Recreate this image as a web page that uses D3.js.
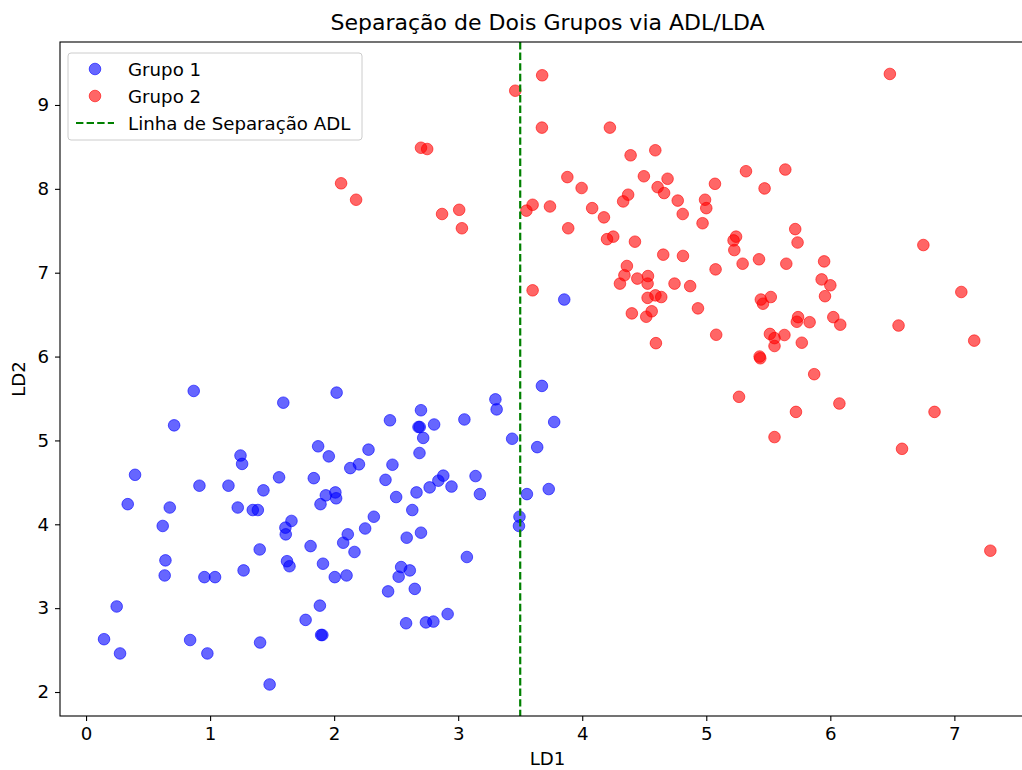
<!DOCTYPE html>
<html>
<head>
<meta charset="utf-8">
<script src="https://cdn.jsdelivr.net/npm/d3@7"></script>
<style>
  html, body { margin: 0; padding: 0; background: #fff; }
  svg { display: block; font-family: "DejaVu Sans", sans-serif; }
</style>
</head>
<body>
<svg id="chart" width="1022" height="770"></svg>
<script>
// Group 1 (LD1, LD2)
const grupo1X = [0.868, 1.59, 0.71, 1.245, 1.258, 0.395, 1.556, 0.914, 1.148, 1.43,
  0.336, 0.675, 1.223, 1.344, 1.385, 1.656, 1.607, 1.61, 0.618, 0.64,
  0.634, 0.954, 1.04, 1.27, 1.40, 1.62, 1.64, 0.247, 0.145, 0.274,
  0.839, 0.978, 1.403, 1.48, 2.02, 3.30, 3.31, 3.675, 2.70, 2.45,
  2.68, 2.69, 2.806, 3.05, 3.774, 2.718, 3.435, 3.637, 1.871, 1.957,
  2.277, 2.688, 2.13, 2.20, 2.47, 1.836, 2.414, 2.88, 2.84, 3.14,
  2.77, 2.946, 3.175, 2.664, 2.50, 3.554, 3.73, 1.933, 2.01, 2.016,
  1.89, 2.63, 2.32, 2.25, 2.11, 2.585, 2.70, 3.494, 3.49, 2.073,
  1.81, 2.164, 3.07, 1.91, 2.005, 2.10, 2.54, 2.61, 2.52, 2.65,
  2.435, 1.885, 1.77, 1.895, 1.905, 2.58, 2.74, 2.80, 2.915, 3.855];
const grupo1Y = [5.59, 5.45, 5.18, 4.82, 4.72, 4.59, 4.56, 4.46, 4.46, 4.405,
  4.24, 4.20, 4.20, 4.17, 4.17, 4.04, 3.96, 3.88, 3.98, 3.57,
  3.39, 3.37, 3.37, 3.45, 3.70, 3.56, 3.50, 3.02, 2.63, 2.46,
  2.62, 2.46, 2.59, 2.09, 5.57, 5.49, 5.37, 5.65, 5.36, 5.24,
  5.16, 5.16, 5.19, 5.25, 5.22, 5.03, 5.02, 4.92, 4.93, 4.81,
  4.89, 4.85, 4.67, 4.715, 4.71, 4.55, 4.53, 4.58, 4.52, 4.575,
  4.44, 4.45, 4.36, 4.38, 4.325, 4.36, 4.42, 4.345, 4.38, 4.31,
  4.24, 4.17, 4.09, 3.95, 3.88, 3.84, 3.90, 4.09, 3.98, 3.78,
  3.74, 3.67, 3.61, 3.53, 3.37, 3.39, 3.49, 3.45, 3.375, 3.23,
  3.20, 3.03, 2.86, 2.68, 2.68, 2.82, 2.83, 2.84, 2.93, 6.68];

// Group 2 (LD1, LD2)
const grupo2X = [3.677, 3.46, 3.675, 2.70, 2.75, 2.056, 2.177, 2.87, 3.008, 3.03,
  3.60, 3.55, 3.74, 3.88, 3.887, 3.60, 4.223, 4.589, 4.39, 3.995,
  4.497, 4.688, 4.608, 4.66, 4.37, 4.33, 4.77, 4.81, 5.07, 5.32,
  5.637, 5.47, 4.99, 5.0, 4.97, 4.08, 4.175, 4.25, 4.20, 4.425,
  5.24, 5.22, 5.226, 4.653, 4.812, 5.425, 5.293, 5.645, 5.075, 4.36,
  4.34, 4.304, 4.444, 4.53, 4.527, 4.744, 4.87, 4.527, 4.59, 4.637,
  4.933, 4.40, 4.516, 4.56, 5.44, 5.457, 5.52, 4.594, 5.08, 5.513,
  5.55, 5.55, 5.63, 5.43, 5.435, 5.264, 5.55, 6.48, 5.717, 5.736,
  6.75, 5.95, 5.93, 6.0, 5.957, 7.056, 5.74, 5.73, 5.833, 6.024,
  6.08, 6.55, 7.16, 5.77, 5.87, 6.073, 5.723, 6.84, 6.578, 7.29];
const grupo2Y = [9.354, 9.17, 8.73, 8.49, 8.475, 8.066, 7.87, 7.70, 7.75, 7.53,
  7.81, 7.74, 7.79, 8.14, 7.53, 6.79, 8.73, 8.46, 8.40, 8.01,
  8.15, 8.12, 8.02, 7.95, 7.93, 7.85, 7.86, 7.70, 8.06, 8.21,
  8.23, 8.005, 7.87, 7.77, 7.59, 7.77, 7.66, 7.43, 7.40, 7.37,
  7.43, 7.385, 7.27, 7.215, 7.20, 7.16, 7.107, 7.107, 7.04, 7.08,
  6.97, 6.87, 6.93, 6.96, 6.87, 6.87, 6.84, 6.70, 6.73, 6.71,
  6.575, 6.515, 6.475, 6.54, 6.68, 6.63, 6.71, 6.16, 6.26, 6.27,
  6.22, 6.126, 6.257, 6.00, 5.98, 5.52, 5.04, 9.37, 7.52, 7.36,
  7.33, 7.135, 6.92, 6.85, 6.72, 6.77, 6.47, 6.415, 6.41, 6.47,
  6.38, 6.37, 6.19, 6.165, 5.79, 5.44, 5.34, 5.34, 4.90, 3.685];

// Decision boundary on LD1
const separacaoLD1 = 3.5;

const xTicks = [0, 1, 2, 3, 4, 5, 6, 7];
const yTicks = [2, 3, 4, 5, 6, 7, 8, 9];

const titulo = "Separação de Dois Grupos via ADL/LDA";
const legendas = ["Grupo 1", "Grupo 2", "Linha de Separação ADL"];

const svg = d3.select("#chart");
const plot = { left: 60, right: 1035, top: 42, bottom: 716 };

const x = d3.scaleLinear().domain([-0.21, 7.65]).range([plot.left, plot.right]);
const y = d3.scaleLinear().domain([1.714, 9.751]).range([plot.bottom, plot.top]);

const baseFont = 18.2;

// Points
function drawGroup(xs, ys, color) {
  svg.append("g")
    .selectAll("circle")
    .data(xs.map((v, i) => [v, ys[i]]))
    .join("circle")
    .attr("cx", d => x(d[0]))
    .attr("cy", d => y(d[1]))
    .attr("r", 5.8)
    .attr("fill", color)
    .attr("fill-opacity", 0.6)
    .attr("stroke", color)
    .attr("stroke-opacity", 0.6)
    .attr("stroke-width", 1);
}
drawGroup(grupo1X, grupo1Y, "#0000ff");
drawGroup(grupo2X, grupo2Y, "#ff0000");

// Separation line
svg.append("line")
  .attr("x1", x(separacaoLD1)).attr("x2", x(separacaoLD1))
  .attr("y1", plot.top).attr("y2", plot.bottom)
  .attr("stroke", "#008000")
  .attr("stroke-width", 2.2)
  .attr("stroke-dasharray", "7.4,3.2");

// Axes
const xAxis = d3.axisBottom(x).tickValues(xTicks).tickFormat(d3.format("d")).tickSizeOuter(0).tickSize(5).tickPadding(6);
const yAxis = d3.axisLeft(y).tickValues(yTicks).tickFormat(d3.format("d")).tickSizeOuter(0).tickSize(5).tickPadding(6);

const gx = svg.append("g").attr("transform", `translate(0,${plot.bottom})`).call(xAxis);
const gy = svg.append("g").attr("transform", `translate(${plot.left},0)`).call(yAxis);
[gx, gy].forEach(g => {
  g.select(".domain").remove();
  g.selectAll(".tick line").attr("stroke", "#000").attr("stroke-width", 1.1);
  g.selectAll(".tick text").attr("font-size", baseFont).attr("fill", "#000")
    .attr("font-family", "DejaVu Sans");
});

// Frame
svg.append("rect")
  .attr("x", plot.left).attr("y", plot.top)
  .attr("width", plot.right - plot.left).attr("height", plot.bottom - plot.top)
  .attr("fill", "none").attr("stroke", "#000").attr("stroke-width", 1.1);

// Title and axis labels
svg.append("text")
  .attr("x", (plot.left + plot.right) / 2).attr("y", 30)
  .attr("text-anchor", "middle").attr("font-size", 22)
  .text(titulo);

svg.append("text")
  .attr("x", (plot.left + plot.right) / 2).attr("y", 765)
  .attr("text-anchor", "middle").attr("font-size", baseFont)
  .text("LD1");

svg.append("text")
  .attr("transform", `translate(25,${(plot.top + plot.bottom) / 2}) rotate(-90)`)
  .attr("text-anchor", "middle").attr("font-size", baseFont)
  .text("LD2");

// Legend
const leg = svg.append("g").attr("transform", "translate(68,53)");
leg.append("rect")
  .attr("width", 294).attr("height", 87).attr("rx", 3)
  .attr("fill", "#fff").attr("fill-opacity", 0.8)
  .attr("stroke", "#ccc").attr("stroke-width", 1);

const legItems = [
  { label: legendas[0], type: "dot", color: "#0000ff" },
  { label: legendas[1], type: "dot", color: "#ff0000" },
  { label: legendas[2], type: "line", color: "#008000" }
];
legItems.forEach((it, i) => {
  const cy = 16 + i * 27;
  if (it.type === "dot") {
    leg.append("circle").attr("cx", 27).attr("cy", cy).attr("r", 5.8)
      .attr("fill", it.color).attr("fill-opacity", 0.6)
      .attr("stroke", it.color).attr("stroke-opacity", 0.6);
  } else {
    leg.append("line").attr("x1", 8).attr("x2", 46).attr("y1", cy).attr("y2", cy)
      .attr("stroke", it.color).attr("stroke-width", 2.2)
      .attr("stroke-dasharray", "7.4,3.2");
  }
  leg.append("text").attr("x", 60).attr("y", cy + 6.5)
    .attr("font-size", baseFont).text(it.label);
});
</script>
</body>
</html>
